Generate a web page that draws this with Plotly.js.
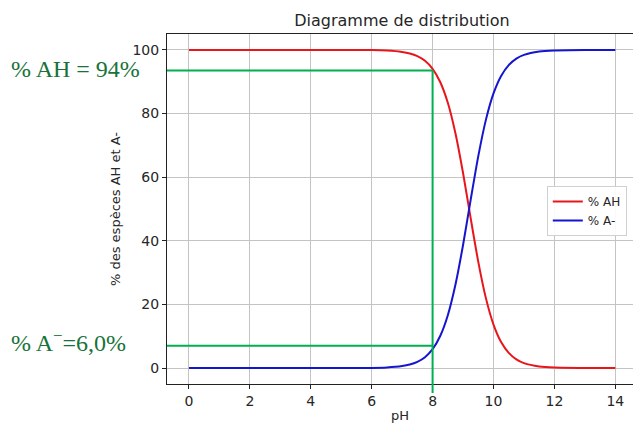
<!DOCTYPE html>
<html>
<head>
<meta charset="utf-8">
<script src="https://cdn.plot.ly/plotly-3.0.1.min.js"></script>
<style>html,body{margin:0;padding:0;background:#fff;}#chart{width:633px;height:424px;}</style>
</head>
<body>
<div id="chart"></div>
<script>
// pH values
const pH = [0,1,2,3,4,5,6,6.5,7,7.25,7.5,7.75,8,8.25,8.5,8.75,9,9.25,9.5,9.75,10,10.25,10.5,10.75,11,11.5,12,13,14];
// % AH
const pctAH = [100,100,100,100,100,99.99,99.94,99.8,99.37,98.89,98.04,96.57,94.06,89.91,83.37,73.81,61.31,47.12,33.39,21.99,13.68,8.18,4.77,2.74,1.56,0.5,0.16,0.02,0];
// % A-
const pctA = [0,0,0,0,0,0.01,0.06,0.2,0.63,1.11,1.96,3.43,5.94,10.09,16.63,26.19,38.69,52.88,66.61,78.01,86.32,91.82,95.23,97.26,98.44,99.5,99.84,99.98,100];
// reading guides drawn on the picture
const guidePH = 8;
const guideLevels = [93.5, 7.0];
const xTicks = [0,2,4,6,8,10,12,14];
const yTicks = [0,20,40,60,80,100];

const xRange = [-0.72, 14.58];
const yRange = [-5, 105];

const traces = [
  {x: pH, y: pctAH, mode: 'lines', name: '% AH', line: {color: '#e8161b', width: 2, shape: 'spline', smoothing: 0.6}},
  {x: pH, y: pctA, mode: 'lines', name: '% A-', line: {color: '#1515d0', width: 2, shape: 'spline', smoothing: 0.6}}
];

const green = '#00b050';
const shapes = [
  {type: 'line', xref: 'x', yref: 'y', x0: xRange[0], x1: guidePH, y0: guideLevels[0], y1: guideLevels[0], line: {color: green, width: 2}},
  {type: 'line', xref: 'x', yref: 'y', x0: xRange[0], x1: guidePH, y0: guideLevels[1], y1: guideLevels[1], line: {color: green, width: 2}},
  {type: 'line', xref: 'x', yref: 'paper', x0: guidePH, x1: guidePH, y0: -0.026, y1: (guideLevels[0] - yRange[0]) / (yRange[1] - yRange[0]), line: {color: green, width: 2}}
];

const layout = {
  width: 633, height: 424,
  margin: {l: 167, r: 0, t: 34, b: 40},
  paper_bgcolor: '#fff', plot_bgcolor: '#fff',
  font: {family: 'DejaVu Sans', size: 13, color: '#262626'},
  title: {text: 'Diagramme de distribution', font: {family: 'DejaVu Sans', size: 16, color: '#262626'}, x: 402/633, xanchor: 'center', xref: 'container', y: 0.953, yanchor: 'middle', yref: 'container'},
  xaxis: {
    range: xRange, tickvals: xTicks, ticktext: xTicks.map(String),
    showgrid: true, gridcolor: '#c4c4c4', gridwidth: 1, zeroline: false,
    showline: true, linecolor: '#222', linewidth: 1, mirror: true,
    ticks: 'outside', ticklen: 4, tickcolor: '#222',
    tickfont: {family: 'DejaVu Sans', size: 14, color: '#262626'}, automargin: false,
    title: {text: 'pH', font: {size: 13}, standoff: 3}
  },
  yaxis: {
    range: yRange, tickvals: yTicks, ticktext: yTicks.map(String),
    showgrid: true, gridcolor: '#c4c4c4', gridwidth: 1, zeroline: false,
    showline: true, linecolor: '#222', linewidth: 1,
    ticks: 'outside', ticklen: 4, tickcolor: '#222',
    tickfont: {family: 'DejaVu Sans', size: 14, color: '#262626'}, automargin: false,
    title: {text: '% des espèces AH et A-', font: {size: 13}, standoff: 8}
  },
  legend: {x: 0.815, y: 0.566, xanchor: 'left', yanchor: 'top', bgcolor: 'rgba(255,255,255,0.9)', bordercolor: '#d0d0d0', borderwidth: 1, font: {size: 12}, itemwidth: 30, tracegroupgap: 0},
  shapes: shapes,
  annotations: [
    {text: '% AH = 94%', xref: 'paper', yref: 'paper', x: -158/466, y: (384-69)/350, xanchor: 'left', yanchor: 'middle', showarrow: false, font: {family: 'Liberation Serif', size: 24, color: '#17733a'}},
    {text: '% A<sup>\u2212</sup>=6,0%', xref: 'paper', yref: 'paper', x: -158/466, y: (384-341)/350, xanchor: 'left', yanchor: 'middle', showarrow: false, font: {family: 'Liberation Serif', size: 24, color: '#17733a'}}
  ],
  showlegend: true
};

Plotly.newPlot('chart', traces, layout, {staticPlot: true, displayModeBar: false});
</script>
</body>
</html>
